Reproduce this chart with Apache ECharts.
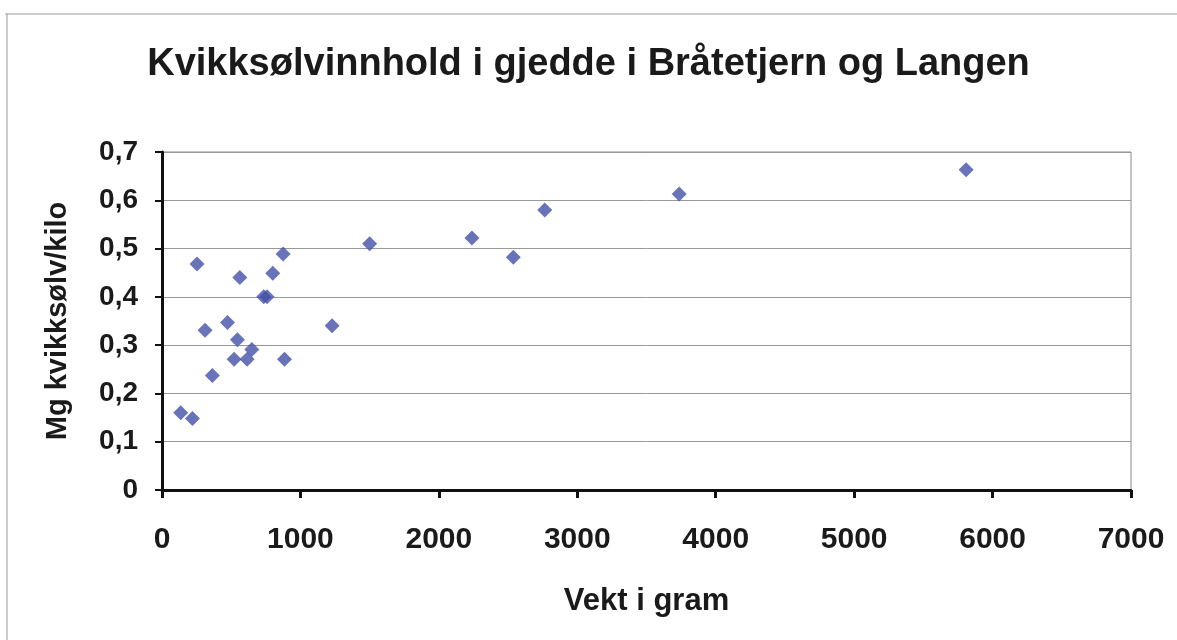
<!DOCTYPE html>
<html>
<head>
<meta charset="utf-8">
<script src="https://cdn.jsdelivr.net/npm/echarts@6/dist/echarts.min.js"></script>
<style>
  html, body { margin: 0; padding: 0; background: #fff; }
  #main { width: 1177px; height: 640px; }
</style>
</head>
<body>
<div id="main"></div>
<script>
// vekt (gram) og kvikksølv (mg/kg), lest av figuren
const weights = [135, 220, 253, 311, 364, 473, 521, 545, 562, 615, 649, 735, 759, 800, 875, 885, 1229, 1500, 2239, 2538, 2765, 3736, 5809];
const mercury = [0.160, 0.148, 0.468, 0.331, 0.237, 0.347, 0.271, 0.311, 0.440, 0.271, 0.291, 0.400, 0.400, 0.449, 0.489, 0.271, 0.340, 0.510, 0.522, 0.482, 0.580, 0.613, 0.663];

const points = weights.map((w, i) => [w, mercury[i]]);

const chart = echarts.init(document.getElementById('main'));
const font = 'Liberation Sans, Arial, sans-serif';

chart.setOption({
  backgroundColor: '#fff',
  title: {
    text: 'Kvikksølvinnhold i gjedde i Bråtetjern og Langen',
    left: 'center',
    top: 41,
    textStyle: { fontFamily: font, fontWeight: 'bold', fontSize: 38, color: '#1a1a1a' }
  },
  graphic: [
    { type: 'line', shape: { x1: 5, y1: 14, x2: 1177, y2: 14 }, style: { stroke: '#999', lineWidth: 1 } },
    { type: 'line', shape: { x1: 7, y1: 14, x2: 7, y2: 640 }, style: { stroke: '#999', lineWidth: 1 } }
  ],
  grid: {
    left: 162, right: 46, top: 152, bottom: 150,
    show: true, borderColor: '#888', borderWidth: 1
  },
  xAxis: {
    type: 'value',
    min: 0, max: 7000, interval: 1000,
    name: 'Vekt i gram',
    nameLocation: 'middle',
    nameGap: 96,
    nameTextStyle: { fontFamily: font, fontWeight: 'bold', fontSize: 31, color: '#1a1a1a' },
    axisLine: { lineStyle: { color: '#111', width: 3 } },
    axisTick: { inside: false, length: 8, lineStyle: { color: '#111', width: 3 } },
    axisLabel: {
      margin: 35, fontFamily: font, fontWeight: 'bold', fontSize: 30, color: '#1a1a1a',
      formatter: v => String(v)
    },
    splitLine: { show: false }
  },
  yAxis: {
    type: 'value',
    min: 0, max: 0.7, interval: 0.1,
    name: 'Mg kvikksølv/kilo',
    nameLocation: 'middle',
    nameGap: 90,
    nameTextStyle: { fontFamily: font, fontWeight: 'bold', fontSize: 29, color: '#1a1a1a' },
    axisLine: { show: true, lineStyle: { color: '#111', width: 3 } },
    axisTick: { show: true, inside: false, length: 7, lineStyle: { color: '#111', width: 2 } },
    axisLabel: {
      margin: 24, fontFamily: font, fontWeight: 'bold', fontSize: 28, color: '#1a1a1a',
      formatter: v => v === 0 ? '0' : v.toFixed(1).replace('.', ',')
    },
    splitLine: { lineStyle: { color: '#999', width: 1 } }
  },
  series: [{
    type: 'scatter',
    symbol: 'diamond',
    symbolSize: 15,
    itemStyle: { color: '#4450A8' },
    data: points
  }]
});
</script>
</body>
</html>
